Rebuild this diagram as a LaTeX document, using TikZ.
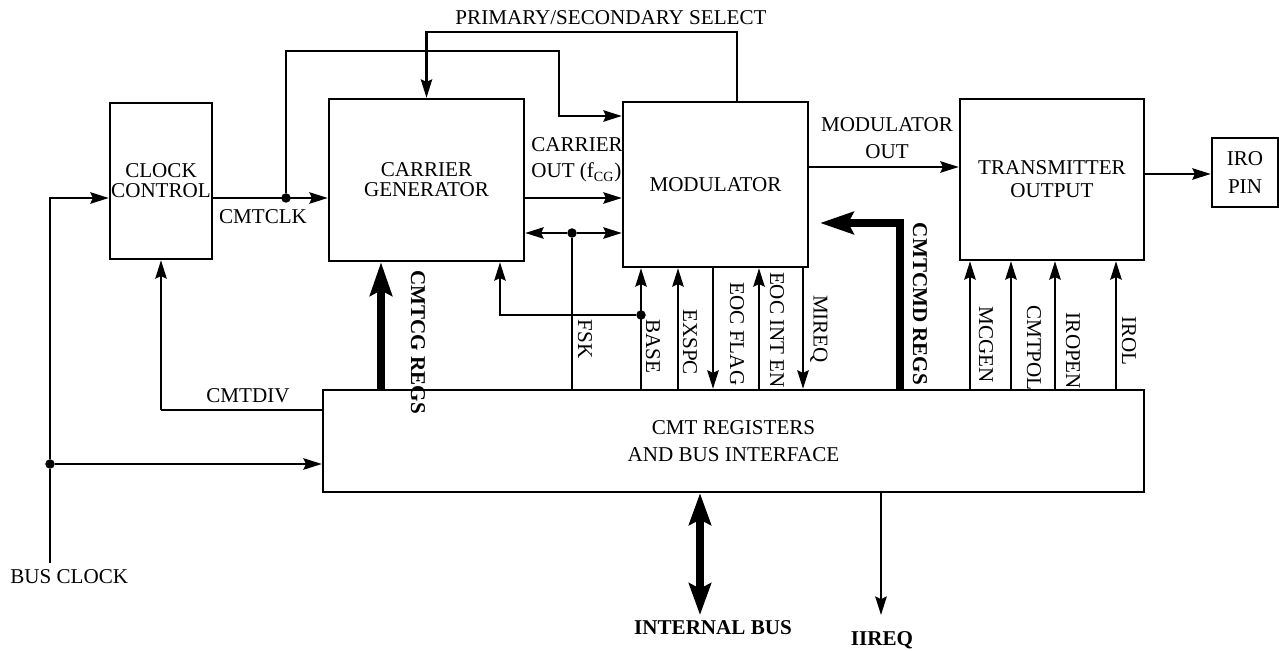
\documentclass[tikz,border=0pt]{standalone}
\usepackage{fontspec}
\setmainfont{Liberation Serif}
\usetikzlibrary{arrows.meta}

\begin{document}
\begin{tikzpicture}[
    x=0.02cm, y=-0.02cm,
    every node/.style={font=\fontsize{12}{13}\selectfont, inner sep=0pt, align=center},
    blk/.style={draw, line width=1.4pt},
    vlbl/.style={rotate=-90},
    bold/.style={font=\fontsize{12}{13}\selectfont\bfseries},
    dot/.style={circle, fill, minimum size=0.19cm},
    wire/.style={line width=1.3pt},
    arr/.style={-{Stealth[length=10.5pt,width=6.5pt,inset=1.5pt]}, line width=1.3pt},
    bus/.style={-{Stealth[length=19pt,width=12.5pt,inset=3pt]}, line width=4.5pt},
    dbus/.style={{Stealth[length=18pt,width=12.5pt,inset=3pt]}-{Stealth[length=18pt,width=12.5pt,inset=3pt]}, line width=4.5pt}
]
    \useasboundingbox (0,0) rectangle (1279,651);

    % Blocks
    \node[blk, minimum width=2.04cm, minimum height=3.12cm, font=\fontsize{12}{11.5}\selectfont] (clk) at (161,181) {CLOCK\\CONTROL};
    \node[blk, minimum width=3.9cm, minimum height=3.24cm, font=\fontsize{12}{11.5}\selectfont] (cg) at (426.5,180) {CARRIER\\GENERATOR};
    \node[blk, minimum width=3.7cm, minimum height=3.3cm] (mod) at (715.5,184.5) {MODULATOR};
    \node[blk, minimum width=3.68cm, minimum height=3.22cm] (tx) at (1052,179.5) {TRANSMITTER\\OUTPUT};
    \node[blk, minimum width=1.32cm, minimum height=1.38cm, font=\fontsize{12}{16}\selectfont] (iro) at (1245,172.5) {IRO\\PIN};
    \node[blk, minimum width=16.42cm, minimum height=2.04cm, font=\fontsize{12}{15}\selectfont] (reg) at (733.5,441) {CMT REGISTERS\\AND BUS INTERFACE};

    % Labels
    \node (psel) at (611,18) {PRIMARY/SECONDARY SELECT};
    \node (cmtclk) at (263,217) {CMTCLK};
    \node[anchor=west, align=left, font=\fontsize{12}{15}\selectfont] (cout) at (531,160) {CARRIER\\OUT (f\textsubscript{CG})};
    \node[font=\fontsize{12}{15}\selectfont] (mout) at (887,138) {MODULATOR\\OUT};
    \node (cmtdiv) at (248,396) {CMTDIV};
    \node[anchor=west] (busclk) at (10,577) {BUS CLOCK};
    \node[bold] (ibus) at (713,628) {INTERNAL BUS};
    \node[bold] (iireq) at (882,640) {IIREQ};
    \node[bold, vlbl] (cgregs) at (418,342) {CMTCG REGS};
    \node[bold, vlbl] (cmdregs) at (920,304) {CMTCMD REGS};
    \node[vlbl] (fsk) at (585,339) {FSK};
    \node[vlbl] (base) at (653,346) {BASE};
    \node[vlbl] (exspc) at (690,342) {EXSPC};
    \node[vlbl] (eocflag) at (737,334) {EOC FLAG};
    \node[vlbl] (eocint) at (777,330) {EOC INT EN};
    \node[vlbl] (mireq) at (819,329) {MIREQ};
    \node[vlbl] (mcgen) at (986,345) {MCGEN};
    \node[vlbl] (cmtpol) at (1034,348) {CMTPOL};
    \node[vlbl] (iropen) at (1073,351) {IROPEN};
    \node[vlbl] (irol) at (1129,341) {IROL};

    % Junctions and free ends
    \node[dot] (ckdot) at (286,198) {};
    \node[dot] (fskdot) at (572,233) {};
    \node[dot] (basedot) at (641,315) {};
    \node[dot] (bcdot) at (50,464) {};
    \coordinate (bcend) at (50,563);
    \coordinate (divpt) at (161,410);
    \coordinate (ckturn) at (559,51);
    \coordinate (ckin) at (623,116);
    \coordinate (selpt) at (737,32);
    \coordinate (basein) at (500,261);
    \coordinate (cmdturn) at (900,223);
    \coordinate (cmdtip) at (820,223);
    \coordinate (ibend) at (700,615);
    \coordinate (iiend) at (881,615);

    % Clock paths
    \draw[wire] (bcend) -- (bcdot);
    \draw[arr] (bcdot) |- (clk.west |- ckdot);
    \draw[arr] (bcdot) -- (reg.west |- bcdot);
    \draw[wire] (reg.west |- divpt) -- (divpt);
    \draw[arr] (divpt) -- (clk.south);
    \draw[arr] (clk.east |- ckdot) -- (cg.west |- ckdot);
    \draw[arr] (ckdot) |- (ckturn) |- (mod.west |- ckin);
    \draw[arr] (mod.north -| selpt) |- (cg.north |- selpt) -- (cg.north);

    % Carrier generator to modulator
    \draw[arr] (cg.east |- ckdot) -- (mod.west |- ckdot);
    \draw[arr] (fskdot) -- (cg.east |- fskdot);
    \draw[arr] (fskdot) -- (mod.west |- fskdot);
    \draw[wire] (reg.north -| fskdot) -- (fskdot);
    \draw[arr] (reg.north -| basedot) -- (mod.south -| basedot);
    \draw[arr] (basedot) -| (cg.south -| basein);

    % Register lines to modulator
    \foreach \x in {678,759}
        \draw[arr] (reg.north -| \x,0) -- (mod.south -| \x,0);
    \foreach \x in {713,803}
        \draw[arr] (mod.south -| \x,0) -- (reg.north -| \x,0);

    % Register lines to transmitter
    \foreach \x in {970,1011,1055,1116}
        \draw[arr] (reg.north -| \x,0) -- (tx.south -| \x,0);

    % Outputs
    \draw[arr] (mod.east |- 0,167) -- (tx.west |- 0,167);
    \draw[arr] (tx.east |- 0,174) -- (iro.west |- 0,174);

    % Register buses
    \draw[bus] (reg.north -| 381,0) -- (cg.south -| 381,0);
    \draw[bus] (reg.north -| cmdturn) -- (cmdturn) -- (cmdtip);
    \draw[dbus] (reg.south -| ibend) -- (ibend);
    \draw[arr] (reg.south -| iiend) -- (iiend);
\end{tikzpicture}
\end{document}
